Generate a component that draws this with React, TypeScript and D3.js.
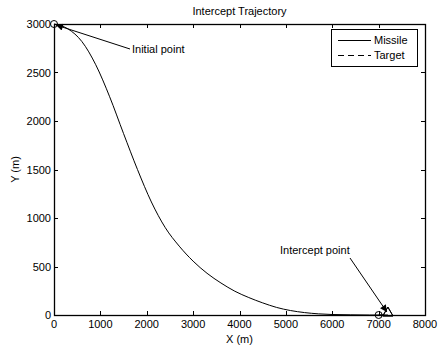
import React, { useRef, useEffect } from "react";
import * as d3 from "d3";

// missile path
const missileX = [0, 300, 600, 900, 1200, 1500, 1800, 2100, 2400, 2700, 3000, 3300, 3600, 3900, 4200, 4500, 4800, 5100, 5400, 5700, 6000, 6400, 6800, 7200];
const missileY = [3000, 2950, 2820, 2580, 2250, 1870, 1500, 1165, 900, 710, 555, 430, 330, 245, 180, 125, 78, 46, 25, 12, 5, 2, 0, 0];

// target moves along the ground
const targetX = [7000, 7200];
const targetY = [0, 0];

const xTicks = [0, 1000, 2000, 3000, 4000, 5000, 6000, 7000, 8000];
const yTicks = [0, 500, 1000, 1500, 2000, 2500, 3000];

const W = 438;
const H = 349;
const margin = { top: 24, right: 13, bottom: 34, left: 54 };
const font = "'Liberation Sans', Arial, sans-serif";

function App() {
  const svgRef = useRef<SVGSVGElement>(null);

  useEffect(() => {
    const svg = d3.select(svgRef.current);
    svg.selectAll("*").remove();

    const x = d3.scaleLinear().domain([0, 8000]).range([margin.left, W - margin.right]);
    const y = d3.scaleLinear().domain([0, 3000]).range([H - margin.bottom, margin.top]);
    const [x0, x1] = x.range();
    const [y0, y1] = y.range();

    // arrow marker
    svg
      .append("defs")
      .append("marker")
      .attr("id", "arr")
      .attr("viewBox", "0 0 10 10")
      .attr("refX", 10)
      .attr("refY", 5)
      .attr("markerWidth", 9)
      .attr("markerHeight", 7)
      .attr("markerUnits", "userSpaceOnUse")
      .attr("orient", "auto")
      .append("path")
      .attr("d", "M0,0 L10,5 L0,10 z")
      .attr("fill", "#000");

    // axes box with inward ticks
    const tick = 4;
    const g = svg.append("g").attr("font-family", font).attr("font-size", 11);

    xTicks.forEach((t) => {
      const px = Math.round(x(t)) + 0.5;
      g.append("line").attr("x1", px).attr("x2", px).attr("y1", y0).attr("y2", y0 - tick).attr("stroke", "#000");
      g.append("line").attr("x1", px).attr("x2", px).attr("y1", y1).attr("y2", y1 + tick).attr("stroke", "#000");
      g.append("text").attr("x", x(t)).attr("y", y0 + 13).attr("text-anchor", "middle").text(t);
    });
    yTicks.forEach((t) => {
      const py = Math.round(y(t)) + 0.5;
      g.append("line").attr("x1", x0).attr("x2", x0 + tick).attr("y1", py).attr("y2", py).attr("stroke", "#000");
      g.append("line").attr("x1", x1).attr("x2", x1 - tick).attr("y1", py).attr("y2", py).attr("stroke", "#000");
      g.append("text").attr("x", x0 - 3).attr("y", y(t) + 4).attr("text-anchor", "end").text(t);
    });

    // series
    const pts = (xs: number[], ys: number[]) => xs.map((v, i) => [v, ys[i]] as [number, number]);
    const line = d3
      .line<[number, number]>()
      .x((d) => x(d[0]))
      .y((d) => y(d[1]))
      .curve(d3.curveMonotoneX);

    svg
      .append("path")
      .attr("d", line(pts(missileX, missileY)))
      .attr("fill", "none")
      .attr("stroke", "#000")
      .attr("stroke-width", 1);
    svg
      .append("path")
      .attr("d", line(pts(targetX, targetY)))
      .attr("fill", "none")
      .attr("stroke", "#000")
      .attr("stroke-dasharray", "6,4");

    // start / end markers
    const circ = (cx: number, cy: number) =>
      svg.append("circle").attr("cx", x(cx)).attr("cy", y(cy)).attr("r", 3.5).attr("fill", "none").attr("stroke", "#000");
    const tri = (cx: number, cy: number) =>
      svg
        .append("path")
        .attr("d", d3.symbol(d3.symbolTriangle, 45)())
        .attr("transform", `translate(${x(cx)},${y(cy) - 2})`)
        .attr("fill", "none")
        .attr("stroke", "#000");
    circ(missileX[0], missileY[0]);
    tri(missileX[missileX.length - 1], missileY[missileY.length - 1]);
    circ(targetX[0], targetY[0]);
    tri(targetX[targetX.length - 1], targetY[targetY.length - 1]);

    // box
    svg
      .append("rect")
      .attr("x", x0 + 0.5)
      .attr("y", y1 + 0.5)
      .attr("width", x1 - x0)
      .attr("height", y0 - y1)
      .attr("fill", "none")
      .attr("stroke", "#000")
      .attr("stroke-width", 1.3);

    // annotations
    g.append("line")
      .attr("x1", 130)
      .attr("y1", 49)
      .attr("x2", x(missileX[0]) + 2)
      .attr("y2", y(missileY[0]) + 1)
      .attr("stroke", "#000")
      .attr("marker-end", "url(#arr)");
    g.append("text").attr("x", 132).attr("y", 53).text("Initial point");

    g.append("line")
      .attr("x1", 350)
      .attr("y1", 258)
      .attr("x2", x(targetX[1]) - 1)
      .attr("y2", y(0) - 3)
      .attr("stroke", "#000")
      .attr("marker-end", "url(#arr)");
    g.append("text").attr("x", 280).attr("y", 254).text("Intercept point");

    // title and labels
    g.append("text").attr("x", (x0 + x1) / 2).attr("y", 15).attr("text-anchor", "middle").text("Intercept Trajectory");
    g.append("text").attr("x", (x0 + x1) / 2).attr("y", 343).attr("text-anchor", "middle").text("X (m)");
    g.append("text")
      .attr("transform", `translate(19,${(y0 + y1) / 2}) rotate(-90)`)
      .attr("text-anchor", "middle")
      .text("Y (m)");

    // legend
    const lg = g.append("g");
    lg.append("rect")
      .attr("x", 331.5)
      .attr("y", 29.5)
      .attr("width", 86)
      .attr("height", 37)
      .attr("fill", "#fff")
      .attr("stroke", "#000");
    lg.append("line").attr("x1", 338).attr("x2", 371).attr("y1", 40.5).attr("y2", 40.5).attr("stroke", "#000");
    lg.append("text").attr("x", 374).attr("y", 44).text("Missile");
    lg.append("line")
      .attr("x1", 338)
      .attr("x2", 371)
      .attr("y1", 55.5)
      .attr("y2", 55.5)
      .attr("stroke", "#000")
      .attr("stroke-dasharray", "6,4");
    lg.append("text").attr("x", 374).attr("y", 59).text("Target");
  }, []);

  return (
    <svg
      ref={svgRef}
      width={W}
      height={H}
      style={{ position: "absolute", left: 0, top: 0, background: "#fff" }}
    />
  );
}

export default App;
